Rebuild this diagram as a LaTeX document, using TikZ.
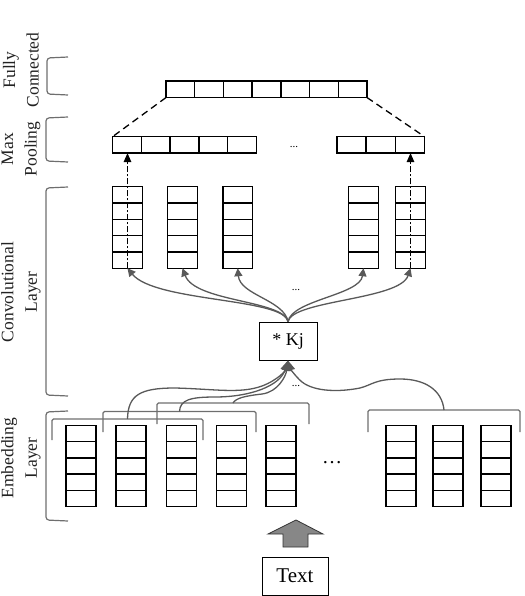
\documentclass[tikz,border=0pt]{standalone}
\usepackage{fontspec}
\setmainfont{Liberation Serif}
\usetikzlibrary{arrows.meta,calc}
\definecolor{curvegray}{HTML}{595959}
\definecolor{brackgray}{HTML}{6E6E6E}
\definecolor{labelgray}{HTML}{222222}
\tikzset{
  cellline/.style={line width=1.4pt, draw=black},
  vcol/.style={draw=black, line width=1.4pt, minimum width=29.5pt, minimum height=81.5pt,
    inner sep=0pt, outer sep=0pt,
    path picture={\foreach \i in {1,...,4}{\draw[cellline]
      ($(path picture bounding box.north west)!\i/5!(path picture bounding box.south west)$) --
      ($(path picture bounding box.north east)!\i/5!(path picture bounding box.south east)$);}}},
  ecol/.style={vcol, minimum width=30pt},
  hrow/.style={draw=black, line width=1.4pt, minimum height=16.5pt, inner sep=0pt, outer sep=0pt,
    path picture={\pgfmathtruncatemacro{\ncut}{#1-1}\foreach \i in {1,...,\ncut}{\draw[cellline]
      ($(path picture bounding box.north west)!\i/#1!(path picture bounding box.north east)$) --
      ($(path picture bounding box.south west)!\i/#1!(path picture bounding box.south east)$);}}},
  fcline/.style={draw=black, line width=1.3pt, dash pattern=on 7pt off 4.5pt},
  poolarrow/.style={draw=black, line width=1.2pt, dash pattern=on 6pt off 2pt on 2pt off 2pt,
    -{Triangle[length=9pt,width=7.5pt]}},
  convarrow/.style={draw=curvegray, line width=1.3pt, -{Triangle[length=8pt,width=8pt]}},
  incurve/.style={draw=curvegray, line width=1.3pt, -{Triangle[length=10pt,width=9pt]}},
  sidebrack/.style={draw=brackgray, line width=1.2pt, rounded corners=3pt},
  topbrack/.style={draw=brackgray, line width=1.3pt, rounded corners=1.5pt},
  layerlabel/.style={rotate=90, align=center, text=labelgray, inner sep=0pt,
    font=\fontsize{17.5}{23.5}\selectfont},
  smalldots/.style={font=\fontsize{11}{12}\selectfont, inner sep=0pt, anchor=base},
  boxnode/.style={draw=black, line width=1pt, inner sep=0pt}
}
\begin{document}
\begin{tikzpicture}[x=1pt,y=-1pt]
\useasboundingbox (0,0) rectangle (524,596);

% ---- layer brackets and labels ----
\draw[sidebrack] (68,57) -- (47,58) -- (47,94) -- (68,95);
\draw[sidebrack] (68,117) -- (46,118) -- (46,161) -- (68,162);
\draw[sidebrack] (68,187) -- (46,188) -- (46,395) -- (68,396);
\draw[sidebrack] (68,411) -- (46,412) -- (46,520) -- (68,521);
\node[layerlabel] (lfc) at (21,70) {Fully\\Connected};
\node[layerlabel] (lmp) at (21,149) {Max\\Pooling};
\node[layerlabel] (lcv) at (21,292) {Convolutional\\Layer};
\node[layerlabel] (lem) at (21,458) {Embedding\\Layer};

% ---- fully connected and pooling ----
\node[hrow=7, minimum width=201pt] (fc) at (266.5,89.3) {};
\node[hrow=5, minimum width=143.5pt] (pl) at (184.5,144.8) {};
\node[hrow=3, minimum width=87.3pt] (pr) at (380.7,144.8) {};
\node[smalldots] (d1) at (294,147) {...};
\draw[fcline] (fc.south west) -- (pl.north west);
\draw[fcline] (fc.south east) -- (pr.north east);

% ---- convolutional columns ----
\node[vcol] (c1) at (127.5,227.5) {};
\node[vcol] (c2) at (182.5,227.5) {};
\node[vcol] (c3) at (237.7,227.5) {};
\node[vcol] (c4) at (363.5,227.5) {};
\node[vcol] (c5) at (410.5,227.5) {};
\draw[poolarrow] (c1.south) -- (c1.south |- pl.south);
\draw[poolarrow] (c5.south) -- (c5.south |- pr.south);

% ---- kernel ----
\node[boxnode, minimum width=58pt, minimum height=38pt, font=\fontsize{18}{20}\selectfont] (kj) at (288,341) {* Kj};
\node[smalldots] (d2) at (296,290) {...};
\draw[convarrow] (kj.north) .. controls (284,298) and (155,302) .. (c1.south);
\draw[convarrow] (kj.north) .. controls (283,300) and (195,302) .. (c2.south);
\draw[convarrow] (kj.north) .. controls (284,300) and (240,295) .. (c3.south);
\draw[convarrow] (kj.north) .. controls (292,300) and (360,295) .. (c4.south);
\draw[convarrow] (kj.north) .. controls (293,300) and (400,300) .. (c5.south);

% ---- embedding columns ----
\node[ecol] (e1) at (81,466) {};
\node[ecol] (e2) at (131,466) {};
\node[ecol] (e3) at (181.5,466) {};
\node[ecol] (e4) at (231.5,466) {};
\node[ecol] (e5) at (281,466) {};
\node[ecol] (e6) at (401,466) {};
\node[ecol] (e7) at (448,466) {};
\node[ecol] (e8) at (496,466) {};
\node[font=\fontsize{20}{22}\selectfont, inner sep=0pt, anchor=base] (d3) at (332,463) {\ldots};

% ---- window brackets ----
\draw[topbrack] (52,440) -- (52,419) -- (203,419) -- (203,440);
\draw[topbrack] (103,432) -- (103,411.5) -- (256,411.5) -- (256,432);
\draw[topbrack] (157,424) -- (157,403) -- (309,403) -- (309,424);
\draw[topbrack] (368,432) -- (368,410) -- (520,410) -- (520,432);
\coordinate (b1) at (127.5,419);
\coordinate (b2) at (179.5,411.5);
\coordinate (b3) at (233,403);
\coordinate (b4) at (444,410);
\node[smalldots] (d4) at (296,386) {...};
\draw[incurve] (b1) .. controls (128,395) and (140,388) .. (175,388)
  .. controls (215,389) and (240,394) .. (262,386)
  .. controls (278,380) and (286,370) .. (kj.south);
\draw[incurve] (b2) .. controls (180,400) and (190,397) .. (215,397)
  .. controls (250,397) and (280,386) .. (kj.south);
\draw[incurve] (b3) .. controls (236,398) and (245,396) .. (262,394)
  .. controls (278,392) and (286,376) .. (kj.south);
\draw[incurve] (b4) .. controls (442,390) and (425,379) .. (400,379)
  .. controls (375,379) and (372,385) .. (360,388)
  .. controls (340,392) and (315,392) .. (302,382)
  .. controls (295,376) and (290,368) .. (kj.south);

% ---- input ----
\node[boxnode, minimum width=66pt, minimum height=38pt, font=\fontsize{21}{23}\selectfont] (txt) at (295,576) {Text};
\draw[draw=black!80, fill=black!47, line width=0.8pt] (283,547) -- (283,534) -- (268,534) -- (296,520)
  -- (323,534) -- (308,534) -- (308,547) -- cycle;
\end{tikzpicture}
\end{document}
